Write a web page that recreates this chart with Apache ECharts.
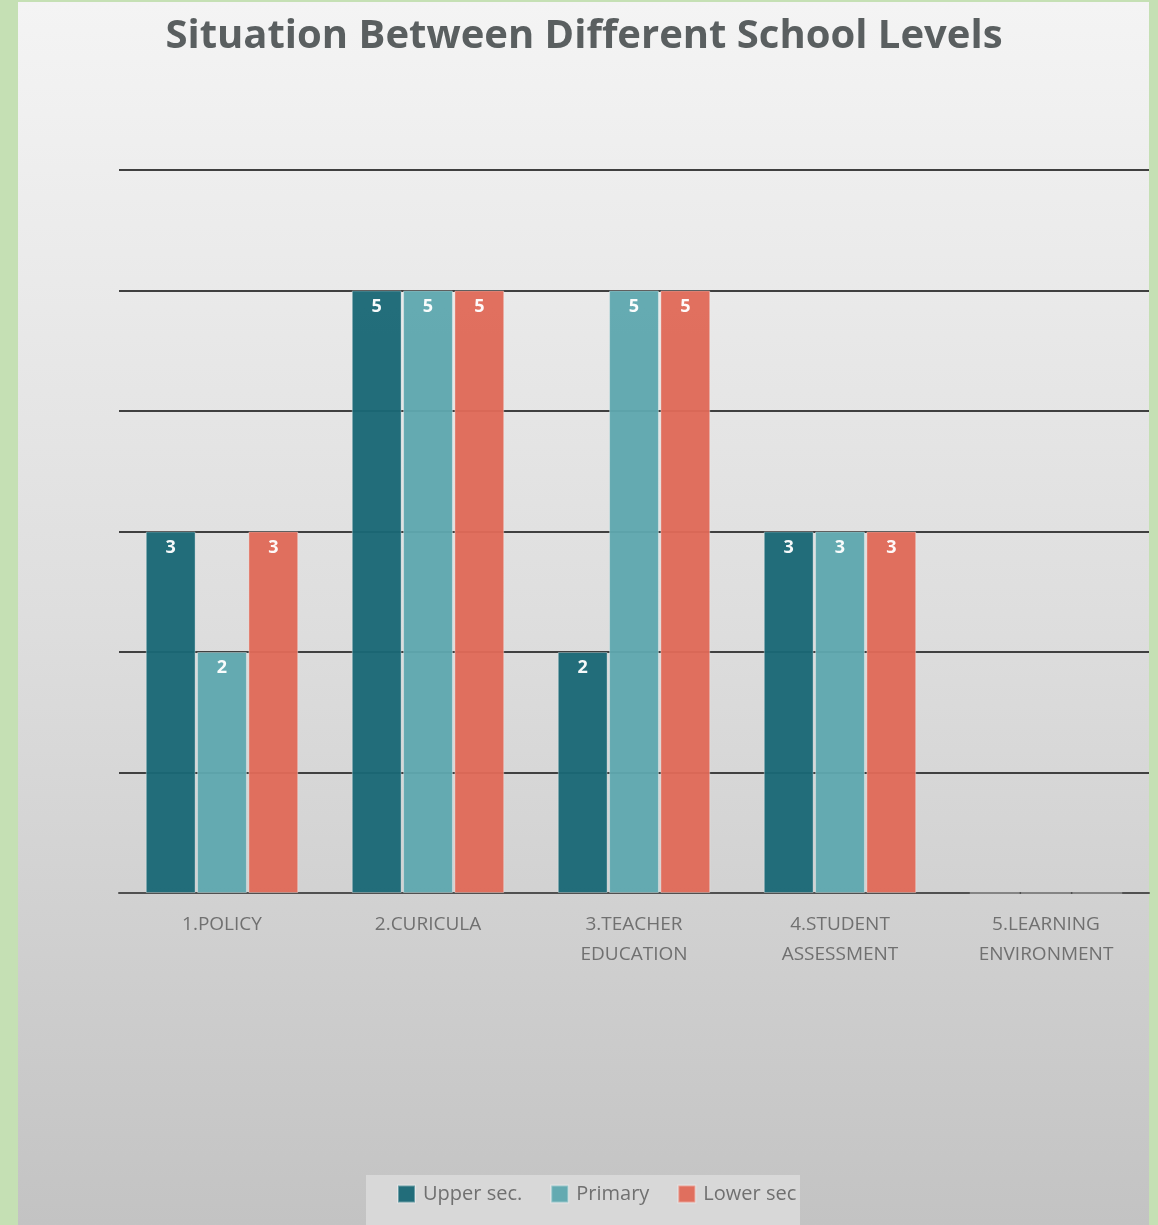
<!DOCTYPE html>
<html>
<head>
<meta charset="utf-8">
<script src="https://cdn.jsdelivr.net/npm/echarts@6/dist/echarts.min.js"></script>
<style>
html,body{margin:0;padding:0;background:#c5e0b4;}
#chart{width:1158px;height:1225px;}
</style>
</head>
<body>
<div id="chart"></div>
<script>
const categories = ['1.POLICY', '2.CURICULA', '3.TEACHER\nEDUCATION', '4.STUDENT\nASSESSMENT', '5.LEARNING\nENVIRONMENT'];
const upperSec = [3, 5, 2, 3, 0];
const primary = [2, 5, 5, 3, 0];
const lowerSec = [3, 5, 5, 3, 0];
const seriesNames = ['Upper sec.', 'Primary', 'Lower sec'];
const colors = ['#1a6876', '#5fa8af', '#e06a58'];

const chart = echarts.init(document.getElementById('chart'));
const fontFam = '"Open Sans", "Noto Sans", sans-serif';
function mk(name, data, color) {
  return {
    name: name, type: 'bar', data: data,
    barGap: '3%', barCategoryGap: '26%',
    itemStyle: { color: color, opacity: 0.96, borderColor: 'rgba(255,255,255,0.35)', borderWidth: 1 },
    label: {
      show: true, position: 'insideTop', distance: 7,
      color: '#ffffff', fontWeight: 'bold', fontSize: 18, fontFamily: fontFam,
      formatter: p => p.value === 0 ? '' : String(p.value)
    }
  };
}
chart.setOption({
  animation: false,
  backgroundColor: 'transparent',
  graphic: [
    { type: 'rect', z: -10, shape: { x: 18, y: 2, width: 1131, height: 1223 },
      style: { fill: new echarts.graphic.LinearGradient(0, 0, 0, 1, [
        { offset: 0, color: '#f4f4f4' }, { offset: 0.5, color: '#dedede' }, { offset: 1, color: '#c3c3c3' }]) } },
    { type: 'rect', z: -9, shape: { x: 366, y: 1175, width: 434, height: 50 },
      style: { fill: '#d8d8d8' } }
  ],
  title: {
    text: 'Situation Between Different School Levels',
    left: 579, top: 12, textAlign: 'center',
    textStyle: { fontSize: 40, fontWeight: 'bold', color: '#5a5f60', fontFamily: fontFam }
  },
  legend: {
    left: 392, top: 1179, itemWidth: 17, itemHeight: 17, itemGap: 28,
    icon: 'rect',
    textStyle: { fontSize: 20, color: '#707070', fontFamily: fontFam, padding: [0, 0, 0, 3] },
    data: seriesNames
  },
  grid: { left: 119, right: 9, top: 170, bottom: 332 },
  xAxis: {
    type: 'category', data: categories,
    axisLine: { lineStyle: { color: '#505050', width: 2 } },
    axisTick: { show: false },
    axisLabel: { fontSize: 19, color: '#707070', fontFamily: fontFam, lineHeight: 30, margin: 17 }
  },
  yAxis: {
    type: 'value', min: 0, max: 6, interval: 1,
    axisLabel: { show: false }, axisLine: { show: false }, axisTick: { show: false },
    splitLine: { lineStyle: { color: '#404040', width: 2 } }
  },
  series: [mk(seriesNames[0], upperSec, colors[0]), mk(seriesNames[1], primary, colors[1]), mk(seriesNames[2], lowerSec, colors[2])]
});
</script>
</body>
</html>
